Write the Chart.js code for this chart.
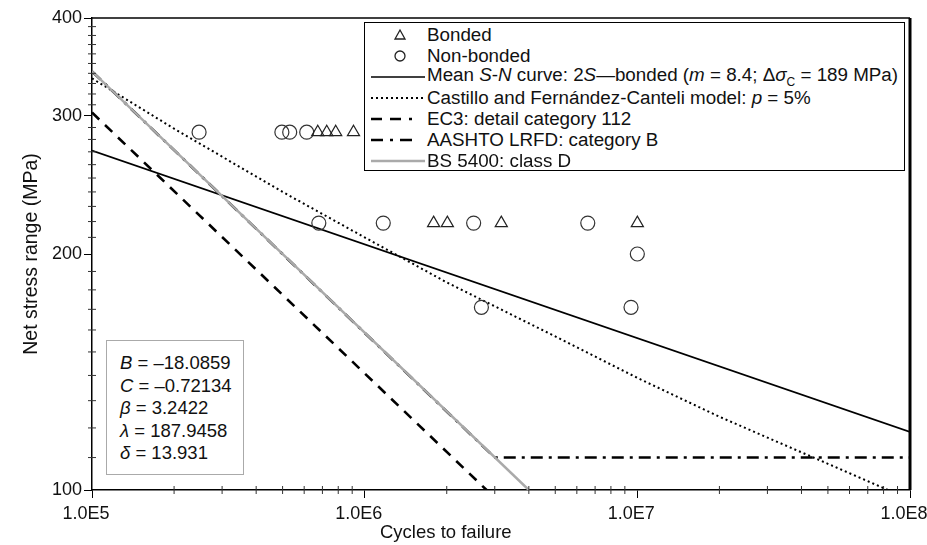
<!DOCTYPE html>
<html>
<head>
<meta charset="utf-8">
<script src="https://cdn.jsdelivr.net/npm/chart.js@4.4.1/dist/chart.umd.min.js"></script>
<style>
  html, body { margin: 0; padding: 0; background: #fff; }
  #wrap { position: relative; width: 927px; height: 545px; font-family: "Liberation Sans", Arial, sans-serif; color: #111; }
  #legend { position: absolute; left: 364px; top: 22px; width: 541px; height: 149px; border: 1.5px solid #000; background: #fff; font-size: 18.8px; box-sizing: border-box; padding-top: 1px; }
  .row { display: flex; align-items: center; height: 21px; white-space: nowrap; }
  .sym { width: 62px; height: 21px; flex: none; }
  #params { position: absolute; left: 106px; top: 340px; width: 138px; height: 135px; border: 1.5px solid #aaa; background: #fff; font-size: 18.5px; line-height: 22.5px; box-sizing: border-box; padding: 11px 0 0 13px; white-space: nowrap; }
  #xtitle { position: absolute; left: 380px; top: 521px; font-size: 18.5px; line-height: 21px; white-space: nowrap; }
  sub { font-size: 12px; }
</style>
</head>
<body>
<div id="wrap">
  <canvas id="chart" width="927" height="545"></canvas>
  <div id="legend">
    <div class="row"><svg class="sym"><polygon points="35,6 40,15 30,15" fill="none" stroke="#222" stroke-width="1.3"/></svg><span>Bonded</span></div>
    <div class="row"><svg class="sym"><circle cx="35" cy="11" r="5" fill="none" stroke="#222" stroke-width="1.3"/></svg><span>Non-bonded</span></div>
    <div class="row"><svg class="sym"><line x1="6" y1="11" x2="60" y2="11" stroke="#000" stroke-width="1.5"/></svg><span>Mean <i>S</i>-<i>N</i> curve: 2<i>S</i>—bonded (<i>m</i> = 8.4; Δ<i>σ</i><sub>C</sub> = 189 MPa)</span></div>
    <div class="row"><svg class="sym"><line x1="6" y1="11" x2="60" y2="11" stroke="#000" stroke-width="2" stroke-dasharray="2,3"/></svg><span>Castillo and Fernández-Canteli model: <i>p</i> = 5%</span></div>
    <div class="row"><svg class="sym"><line x1="6" y1="11" x2="60" y2="11" stroke="#000" stroke-width="2.5" stroke-dasharray="11,8,11,8,3,20"/></svg><span>EC3: detail category 112</span></div>
    <div class="row"><svg class="sym"><line x1="6" y1="11" x2="60" y2="11" stroke="#000" stroke-width="2.5" stroke-dasharray="12,7,3,7,12,20"/></svg><span>AASHTO LRFD: category B</span></div>
    <div class="row"><svg class="sym"><line x1="6" y1="11" x2="60" y2="11" stroke="#aaa" stroke-width="2.5"/></svg><span>BS 5400: class D</span></div>
  </div>
  <div id="params">
    <div><i>B</i> = –18.0859</div>
    <div><i>C</i> = –0.72134</div>
    <div><i>β</i> = 3.2422</div>
    <div><i>λ</i> = 187.9458</div>
    <div><i>δ</i> = 13.931</div>
  </div>
  <div id="xtitle">Cycles to failure</div>
</div>
<script>
// axis ticks
const xTicks = [1e5, 1e6, 1e7, 1e8];
const xTickLabels = ['1.0E5', '1.0E6', '1.0E7', '1.0E8'];
const yTicks = [100, 200, 300, 400];

// test data (cycles, MPa)
const bondedN = [6.73e5, 7.26e5, 7.83e5, 9.1e5, 1.79e6, 2.01e6, 3.17e6, 1.0e7];
const bondedS = [286, 286, 286, 286, 219, 219, 219, 219];
const nonBondedN = [2.47e5, 4.97e5, 5.31e5, 6.13e5, 6.79e5, 1.17e6, 2.51e6, 6.58e6, 1.0e7, 2.68e6, 9.48e6];
const nonBondedS = [286, 286, 286, 286, 219, 219, 219, 219, 200, 171, 171];

// curves
const meanN = [1e5, 1e8];
const meanS = [271, 118.6];
const castilloN = [1e5, 2e5, 5e5, 1e6, 2e6, 5e6, 1e7, 2e7, 5e7, 8.3e7];
const castilloS = [335, 289, 240, 210, 184, 157, 139, 124, 108, 100];
const ec3N = [1e5, 2.8e6];
const ec3S = [303, 100];
const aashtoN = [1e5, 3.0e6, 1e8];
const aashtoS = [342, 110, 110];
const bsN = [1e5, 4.0e6];
const bsS = [342, 100];

const pts = (xs, ys) => xs.map((x, i) => ({ x: x, y: ys[i] }));

const lineDs = (data, color, width, dash, order) => ({
    data: data, showLine: true, pointRadius: 0, borderColor: color, borderWidth: width,
    borderDash: dash, fill: false, order: order
});

// frame + minor ticks
const frame = {
    id: 'frame',
    afterDraw(chart) {
        const ctx = chart.ctx, a = chart.chartArea;
        const xs = chart.scales.x, ys = chart.scales.y;
        ctx.save();
        ctx.strokeStyle = '#000';
        ctx.lineWidth = 1.5;
        ctx.beginPath();
        ctx.moveTo(a.left, a.top); ctx.lineTo(a.right, a.top);
        ctx.stroke();
        ctx.lineWidth = 3;
        ctx.beginPath();
        ctx.moveTo(a.right, a.top); ctx.lineTo(a.right, a.bottom);
        ctx.stroke();
        ctx.lineWidth = 1;
        ctx.strokeStyle = '#333';
        ctx.beginPath();
        for (let d = 5; d < 8; d++) {
            for (let k = 2; k < 10; k++) {
                const px = xs.getPixelForValue(k * Math.pow(10, d));
                ctx.moveTo(px, a.bottom - 4); ctx.lineTo(px, a.bottom + 4);
            }
        }
        for (let v = 110; v < 400; v += 10) {
            if (v === 200 || v === 300) continue;
            const py = ys.getPixelForValue(v);
            ctx.moveTo(a.left - 4, py); ctx.lineTo(a.left + 4, py);
        }
        ctx.stroke();
        ctx.restore();
    }
};

const font = { family: '"Liberation Sans", Arial, sans-serif', size: 18 };

new Chart(document.getElementById('chart').getContext('2d'), {
    type: 'scatter',
    data: {
        datasets: [
            { data: pts(bondedN, bondedS), pointStyle: 'triangle', pointRadius: 7, backgroundColor: 'rgba(255,255,255,0)', borderColor: '#222', borderWidth: 1.2, order: 0 },
            { data: pts(nonBondedN, nonBondedS), pointStyle: 'circle', pointRadius: 7, backgroundColor: 'rgba(255,255,255,0)', borderColor: '#333', borderWidth: 1.2, order: 0 },
            lineDs(pts(meanN, meanS), '#000', 1.6, [], 3),
            lineDs(pts(castilloN, castilloS), '#000', 2, [2, 3], 3),
            lineDs(pts(ec3N, ec3S), '#000', 2.6, [10, 8], 3),
            lineDs(pts(aashtoN, aashtoS), '#000', 2.6, [12, 6, 3, 6], 2),
            lineDs(pts(bsN, bsS), '#aaa', 2.5, [], 1)
        ]
    },
    plugins: [frame],
    options: {
        responsive: false,
        animation: false,
        layout: { padding: { top: 18, right: 17, left: 0, bottom: 0 } },
        plugins: { legend: { display: false }, tooltip: { enabled: false } },
        scales: {
            x: {
                type: 'logarithmic', min: 1e5, max: 1e8,
                afterBuildTicks: s => { s.ticks = xTicks.map(v => ({ value: v })); },
                afterFit: s => { s.height = 55; s.paddingLeft = 0; s.paddingRight = 0; },
                ticks: { autoSkip: false, maxRotation: 0, padding: 5, labelOffset: -6, color: '#111', font: font,
                    callback: (v) => xTickLabels[xTicks.indexOf(v)] },
                grid: { drawOnChartArea: false, tickLength: 8, color: '#000' },
                border: { color: '#000', width: 1.5 }
            },
            y: {
                type: 'logarithmic', min: 100, max: 400,
                afterBuildTicks: s => { s.ticks = yTicks.map(v => ({ value: v })); },
                afterFit: s => { s.width = 92; },
                ticks: { autoSkip: false, padding: 2, color: '#111', font: font, callback: v => String(v) },
                grid: { drawOnChartArea: false, tickLength: 8, color: '#000' },
                border: { color: '#000', width: 1.5 },
                title: { display: true, text: 'Net stress range (MPa)', color: '#111',
                    font: { family: font.family, size: 19.5 }, padding: { top: 20, bottom: 0 } }
            }
        }
    }
});
</script>
</body>
</html>
